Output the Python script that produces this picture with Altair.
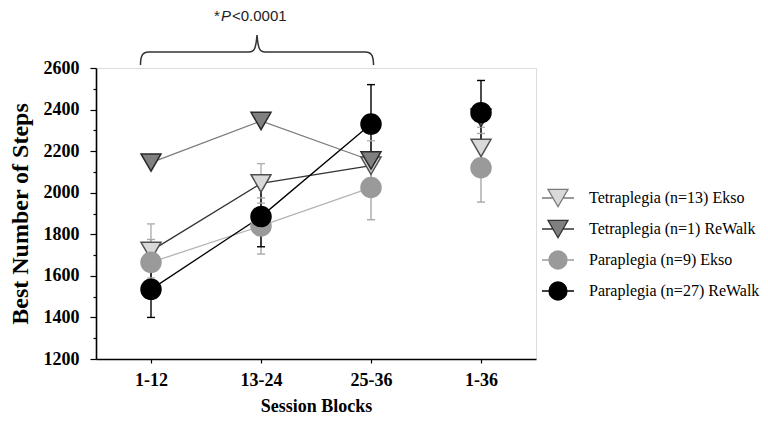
import altair as alt
import pandas as pd

# ---------------- data ----------------
blocks = ["1-12", "13-24", "25-36", "1-36"]
series_names = [
    "Tetraplegia (n=13) Ekso",
    "Tetraplegia (n=1) ReWalk",
    "Paraplegia (n=9) Ekso",
    "Paraplegia (n=27) ReWalk",
]
tetra_ekso_mean = [1720, 2045, 2130, 2215]
tetra_ekso_sd = [130, 95, 120, 100]
tetra_rewalk_mean = [2145, 2345, 2155, 2360]
tetra_rewalk_sd = [None, None, None, None]
para_ekso_mean = [1665, 1840, 2025, 2120]
para_ekso_sd = [110, 135, 155, 165]
para_rewalk_mean = [1535, 1885, 2330, 2385]
para_rewalk_sd = [135, 145, 190, 155]

means = [tetra_ekso_mean, tetra_rewalk_mean, para_ekso_mean, para_rewalk_mean]
sds = [tetra_ekso_sd, tetra_rewalk_sd, para_ekso_sd, para_rewalk_sd]

rows = []
for s, m_list, sd_list in zip(series_names, means, sds):
    for b, m, sd in zip(blocks, m_list, sd_list):
        rows.append({
            "series": s, "block": b, "value": m,
            "lo": (m - sd) if sd is not None else None,
            "hi": (m + sd) if sd is not None else None,
        })
df = pd.DataFrame(rows)

annot_block = "13-24"
brace_value = 2677
label_value = 2850

# ---------------- styles ----------------
SERIF = "'Liberation Serif', 'Times New Roman', Tinos, 'DejaVu Serif', serif"
SANS = "'Liberation Sans', Arial, sans-serif"
point_shapes = ["triangle-down", "triangle-down", "circle", "circle"]
point_fills = ["#d9d9d9", "#808080", "#9a9a9a", "#000000"]
point_strokes = ["#505050", "#2a2a2a", "#9a9a9a", "#000000"]
line_colors = ["#333333", "#7a7a7a", "#b4b4b4", "#000000"]
err_colors = ["#b0b0b0", "#7a7a7a", "#a8a8a8", "#000000"]

tri_leg = "M-1,-0.87L1,-0.87L0,0.87Z M-1.6,0L-0.5,0 M0.5,0L1.6,0"
circ_leg = "M-0.9,0A0.9,0.9,0,1,1,0.9,0A0.9,0.9,0,1,1,-0.9,0Z M-1.6,0L-0.9,0 M0.9,0L1.6,0"
legend_shapes = [tri_leg, tri_leg, circ_leg, circ_leg]
legend_strokes = ["#7a7a7a", "#333333", "#9a9a9a", "#000000"]

brace_path = ("M-1,0.112 C-1,0.03 -0.98,0 -0.93,0 L-0.07,0 C-0.02,0 -0.01,-0.03 0,-0.146 "
              "C0.01,-0.03 0.02,0 0.07,0 L0.93,0 C0.98,0 1,0.03 1,0.112")

x_axis = alt.Axis(
    labelFont=SERIF, labelFontWeight="bold", labelFontSize=18, labelColor="black",
    labelAngle=0, labelPadding=8, tickSize=4, tickColor="black", tickWidth=1.2,
    domainColor="black", domainWidth=1.6, grid=False,
    titleFont=SERIF, titleFontWeight="bold", titleFontSize=18, titleColor="black",
    titlePadding=8,
)
y_axis = alt.Axis(
    values=list(range(1200, 2601, 100)), format="d",
    labelExpr="datum.value % 200 == 0 ? datum.label : ''",
    tickSize={"condition": {"test": "datum.value % 200 == 0", "value": 6}, "value": 3},
    labelFont=SERIF, labelFontWeight="bold", labelFontSize=18, labelColor="black",
    labelPadding=11, tickColor="black", tickWidth=1.2,
    domainColor="black", domainWidth=1.6, grid=False,
    titleFont=SERIF, titleFontWeight="bold", titleFontSize=24, titleColor="black",
    titlePadding=11,
)


def xenc():
    return alt.X("block:N", scale=alt.Scale(type="point", domain=blocks, padding=0.5),
                 axis=x_axis, title="Session Blocks")


def yenc(field="value"):
    return alt.Y(f"{field}:Q", scale=alt.Scale(domain=[1200, 2600], nice=False, zero=False),
                 axis=y_axis, title="Best Number of Steps")


base = alt.Chart(df)

legend = alt.Legend(
    title=None, orient="none", legendX=451, legendY=119, padding=0,
    labelFont=SERIF, labelFontSize=16, labelColor="black", labelLimit=400,
    symbolSize=400, symbolStrokeWidth=1.3, rowPadding=7, labelOffset=20,
)

legend_layer = base.transform_filter("false").mark_point(
    filled=True, opacity=1, strokeWidth=1.3
).encode(
    x=xenc(), y=yenc(),
    shape=alt.Shape("series:N", scale=alt.Scale(domain=series_names, range=legend_shapes), legend=legend),
    fill=alt.Fill("series:N", scale=alt.Scale(domain=series_names, range=point_fills), legend=legend),
    stroke=alt.Stroke("series:N", scale=alt.Scale(domain=series_names, range=legend_strokes), legend=legend),
)

line_layer = base.transform_filter("datum.block != '1-36'").mark_line(strokeWidth=1.3).encode(
    x=xenc(), y=yenc(),
    color=alt.Color("series:N", scale=alt.Scale(domain=series_names, range=line_colors), legend=None),
    detail="series:N",
)

err_layer = base.transform_filter("isValid(datum.lo)").mark_rule(strokeWidth=1.4).encode(
    x=xenc(), y=yenc("lo"), y2="hi:Q",
    stroke=alt.Stroke("series:N", scale=alt.Scale(domain=series_names, range=err_colors), legend=None),
)

cap_layer = base.transform_filter("isValid(datum.lo)").transform_fold(
    ["lo", "hi"], as_=["end", "capv"]
).mark_tick(size=8, thickness=1.4, opacity=1).encode(
    x=xenc(), y=yenc("capv"),
    color=alt.Color("series:N", scale=alt.Scale(domain=series_names, range=err_colors), legend=None),
)

point_layer = base.mark_point(filled=True, size=400, strokeWidth=1.5, opacity=1).encode(
    x=xenc(), y=yenc(),
    shape=alt.Shape("series:N", scale=alt.Scale(domain=series_names, range=point_shapes), legend=None),
    fill=alt.Fill("series:N", scale=alt.Scale(domain=series_names, range=point_fills), legend=None),
    stroke=alt.Stroke("series:N", scale=alt.Scale(domain=series_names, range=point_strokes), legend=None),
)

annot_df = pd.DataFrame({"block": [annot_block], "value": [brace_value], "lv": [label_value]})
annot = alt.Chart(annot_df)

brace_layer = annot.mark_point(
    shape=brace_path, size=54289, filled=False, stroke="#333333", strokeWidth=1.5,
    opacity=1, xOffset=-4,
).encode(x=xenc(), y=yenc())

txt_star = annot.mark_text(text="*", font=SANS, fontSize=15, align="left", baseline="middle",
                           dx=-47, color="#222222").encode(x=xenc(), y=yenc("lv"))
txt_p = annot.mark_text(text="P", font=SANS, fontSize=15, fontStyle="italic", align="left",
                        baseline="middle", dx=-40, color="#222222").encode(x=xenc(), y=yenc("lv"))
txt_rest = annot.mark_text(text="<0.0001", font=SANS, fontSize=15, align="left", baseline="middle",
                           dx=-29, color="#222222").encode(x=xenc(), y=yenc("lv"))

chart = alt.layer(
    legend_layer, line_layer, err_layer, cap_layer, point_layer,
    brace_layer, txt_star, txt_p, txt_rest,
).resolve_scale(
    shape="independent", fill="independent", stroke="independent", color="independent",
).properties(
    width=440, height=291, autosize="none",
    padding={"left": 88, "top": 60, "right": 224, "bottom": 56},
).configure_view(stroke=None).configure(background="white")

chart.save("out.html", embed_options={"renderer": "svg", "actions": False})
